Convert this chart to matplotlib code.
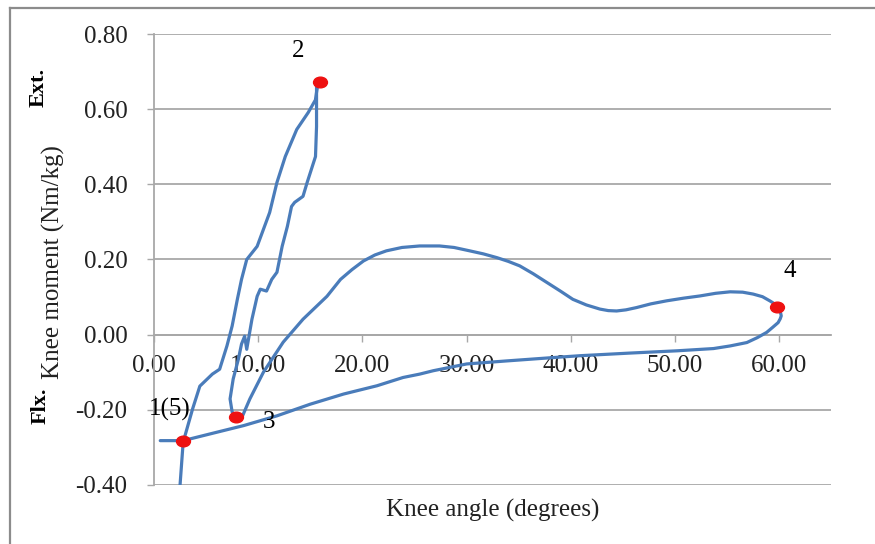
import matplotlib
matplotlib.use('Agg')
import matplotlib.pyplot as plt
from matplotlib.lines import Line2D
from matplotlib.path import Path
from matplotlib.transforms import Affine2D

# knee angle (deg) vs knee moment (Nm/kg), one gait cycle
knee_angle = [2.5, 2.8, 3.7, 4.4, 5.6, 6.3, 7.0, 7.5, 8.0, 8.4, 8.9, 9.9, 11.1, 11.8, 12.6, 13.7, 14.8, 15.5, 15.7, 16.0,
              15.6, 15.6, 15.5, 14.7, 14.3, 13.5, 13.2, 12.8, 12.3, 11.8, 11.3, 10.8, 10.2, 9.9, 9.4, 8.9, 8.7, 8.4, 8.1,
              7.6, 7.3, 7.5, 7.9,
              8.5, 9.2, 10.5, 12.4, 14.3, 16.6, 17.9, 19.0, 20.1, 21.2, 22.3, 23.8, 25.5, 27.4, 28.8, 30.3, 31.6, 32.9,
              34.0, 35.1, 36.4, 37.7, 39.0, 40.2, 41.5, 42.8, 43.6, 44.4, 45.3, 46.3, 47.7, 49.2, 50.8, 52.4, 53.9,
              55.3, 56.5, 57.5, 58.4, 59.1, 59.5, 59.8, 60.1, 60.2, 60.1, 59.9, 59.4, 58.8, 57.9, 56.9, 55.3, 53.7,
              50.2, 45.7, 40.9, 38.3, 33.8, 30.0, 26.8, 25.5, 23.9, 21.4, 18.2, 15.0, 11.8, 8.6, 5.4, 2.8, 0.6]
knee_moment = [-0.40, -0.286, -0.198, -0.137, -0.105, -0.092, -0.03, 0.023, 0.094, 0.147, 0.2, 0.235, 0.325, 0.405,
               0.474, 0.546, 0.591, 0.625, 0.665, 0.675,
               0.66, 0.554, 0.474, 0.405, 0.368, 0.352, 0.341, 0.288, 0.235, 0.166, 0.147, 0.116, 0.121, 0.102, 0.041,
               -0.039, -0.004, -0.025, -0.065, -0.118, -0.171, -0.206, -0.216,
               -0.216, -0.171, -0.1, -0.02, 0.041, 0.102, 0.147, 0.173, 0.196, 0.212, 0.223, 0.232, 0.236, 0.236, 0.232,
               0.223, 0.215, 0.205, 0.195, 0.183, 0.162, 0.139, 0.116, 0.094, 0.079, 0.068, 0.064, 0.063, 0.066,
               0.072, 0.082, 0.09, 0.097, 0.103, 0.110, 0.114, 0.113, 0.108, 0.101, 0.09, 0.083, 0.075, 0.063, 0.05,
               0.042, 0.032, 0.02, 0.006, -0.008, -0.021, -0.03, -0.037,
               -0.043, -0.049, -0.056, -0.061, -0.07, -0.078, -0.096, -0.105, -0.114, -0.136, -0.158, -0.185, -0.216,
               -0.242, -0.264, -0.282, -0.282]

# gait events (red dots)
event_angle = [2.8, 15.9, 7.9, 59.8]
event_moment = [-0.284, 0.672, -0.218, 0.074]
event_names = ['1(5)', '2', '3', '4']

x_ticks = [0, 10, 20, 30, 40, 50, 60]
y_ticks = [-0.4, -0.2, 0.0, 0.2, 0.4, 0.6, 0.8]

serif = 'Liberation Serif'
grey = '#a8a8a8'

fig = plt.figure(figsize=(8.75, 5.44), dpi=100)
ax = fig.add_axes([0.176, 0.1085, 0.774, 0.829])

# x axis crosses at zero (do this first, it resets the ticks)
ax.spines['bottom'].set_position(('data', 0))

ax.plot(knee_angle, knee_moment, color='#4a7cba', lw=2.3, zorder=3,
        solid_joinstyle='round', solid_capstyle='round')

oval = Path.unit_circle().transformed(Affine2D().scale(1.3, 1.0))
ax.plot(event_angle, event_moment, linestyle='none', marker=oval, markersize=10,
        color='#ee1111', zorder=4, clip_on=False)

# event labels
ax.text(13.8, 0.755, event_names[1], fontsize=18, family=serif, ha='center', va='center')
ax.text(61.0, 0.170, event_names[3], fontsize=18, family=serif, ha='center', va='center')
ax.text(11.0, -0.232, event_names[2], fontsize=18, family=serif, ha='center', va='center')
ax.text(1.5, -0.198, event_names[0], fontsize=18, family=serif, ha='center', va='center')

ax.set_xlim(0, 65)
ax.set_ylim(-0.4, 0.8)
ax.set_xticks(x_ticks)
ax.set_yticks(y_ticks)
ax.set_xticklabels(['%.2f' % v for v in x_ticks], family=serif, fontsize=18, color='#222222')
ax.set_yticklabels(['%.2f' % v for v in y_ticks], family=serif, fontsize=18, color='#222222')

ax.yaxis.grid(True, color=grey, lw=1.3)
ax.set_axisbelow(True)
for s in ['top', 'right']:
    ax.spines[s].set_visible(False)
ax.spines['bottom'].set_color(grey)
ax.spines['bottom'].set_linewidth(1.3)
ax.spines['left'].set_color(grey)
ax.spines['left'].set_linewidth(1.3)
ax.tick_params(axis='x', direction='out', length=5, width=1.0, color=grey, pad=10)
ax.tick_params(axis='y', direction='out', length=5, width=1.0, color=grey, pad=14)

fig.text(493 / 875, 1 - 510 / 544, 'Knee angle (degrees)', family=serif, fontsize=18,
         ha='center', va='center', color='#222222')
fig.text(53 / 875, 1 - 262 / 544, 'Knee moment (Nm/kg)', family=serif, fontsize=18,
         rotation=90, ha='center', va='center', color='#222222')
fig.text(39 / 875, 1 - 87 / 544, 'Ext.', family=serif, fontsize=16, fontweight='bold',
         rotation=90, ha='center', va='center')
fig.text(41 / 875, 1 - 406 / 544, 'Flx.', family=serif, fontsize=16, fontweight='bold',
         rotation=90, ha='center', va='center')

# chart frame (left and top edge visible)
fig.add_artist(Line2D([10 / 875, 10 / 875], [0, 1 - 8 / 544], color='#8c8c8c', lw=1.6))
fig.add_artist(Line2D([10 / 875, 1], [1 - 8 / 544, 1 - 8 / 544], color='#8c8c8c', lw=1.6))

fig.savefig('out.png', dpi=100)
